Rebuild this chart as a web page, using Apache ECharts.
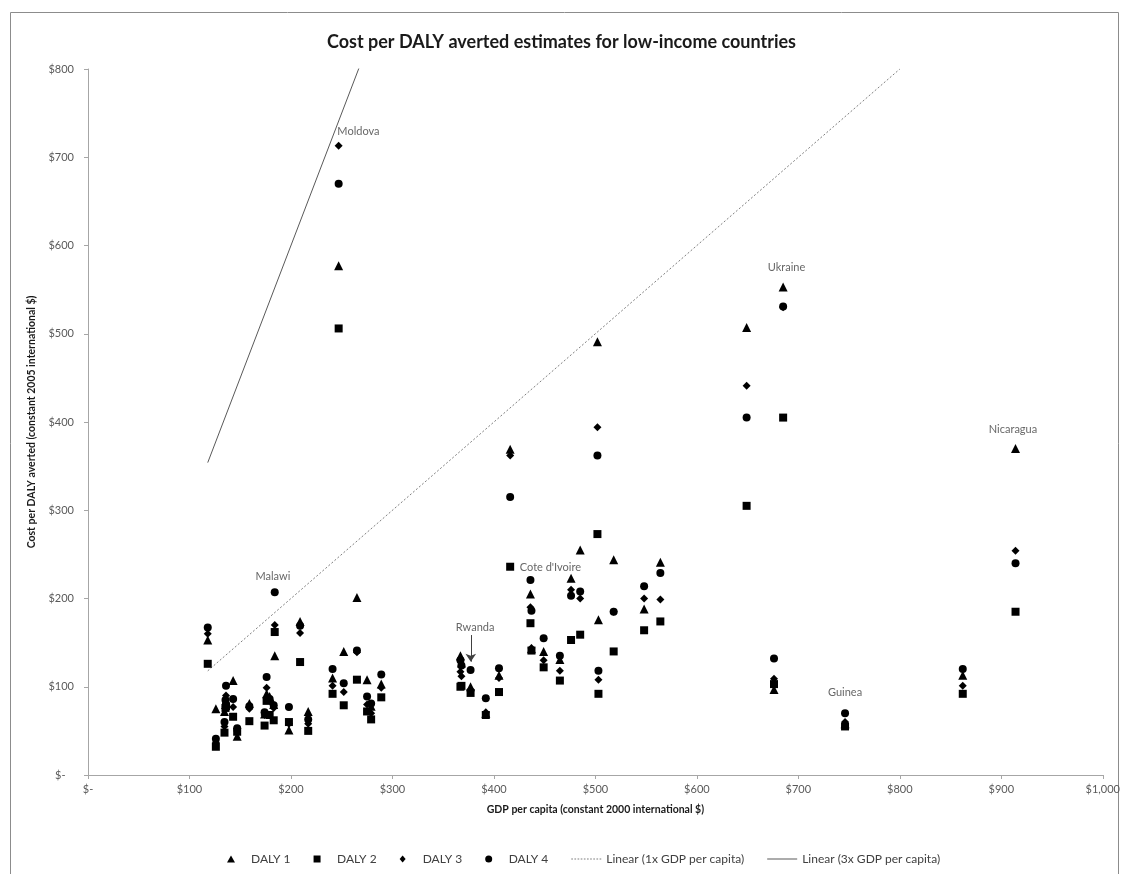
<!DOCTYPE html>
<html>
<head>
<meta charset="utf-8">
<script src="https://cdn.jsdelivr.net/npm/echarts@6/dist/echarts.min.js"></script>
<style>html,body{margin:0;padding:0;background:#fff;}#c{width:1123px;height:874px;}</style>
</head>
<body>
<div id="c"></div>
<script>
// GDP per capita (constant 2000 international $) for each country
const gdp   = [118, 126, 134.5, 135.5, 136, 143, 147, 159, 174, 176, 179, 183, 184, 198, 209, 217, 241, 247, 252, 265, 275, 279, 289, 367, 368, 377, 392, 405, 416, 436, 437, 449, 465, 476, 485, 502, 503, 518, 548, 564, 649, 685, 676, 746, 862, 914];
// Cost per DALY averted (constant 2005 international $)
const daly1 = [153, 75, 72, 80, 84, 107, 44, 81, 69, 92, 89, 80, 135, 51, 174, 72, 110, 577, 140, 201, 108, 78, 103, 135, 127, 100, 70, 113, 369, 205, 143, 140, 131, 223, 255, 491, 176, 244, 188, 241, 507, 553, 97, 58, 113, 370];
const daly2 = [126, 32, 48, 76, 78, 66, 49, 61, 56, 84, 68, 62, 162, 60, 128, 50, 92, 506, 79, 108, 72, 63, 88, 100, 101, 93, 68, 94, 236, 172, 141, 122, 107, 153, 159, 273, 92, 140, 164, 174, 305, 405, 103, 55, 92, 185];
const daly3 = [160, 37, 55, 78, 90, 77, 50, 75, 68, 99, 84, 76, 170, 58, 161, 58, 101, 713, 94, 139, 80, 70, 99, 117, 112, 97, 71, 110, 362, 190, 144, 130, 118, 210, 200, 394, 108, 185, 200, 199, 441, 530, 109, 60, 101, 254];
const daly4 = [167, 41, 60, 85, 101, 86, 53, 78, 71, 111, 86, 79, 207, 77, 169, 63, 120, 670, 104, 141, 89, 81, 114, 130, 124, 119, 87, 121, 315, 221, 186, 155, 135, 203, 208, 362, 118, 185, 214, 229, 405, 531, 132, 70, 120, 240];
// Reference lines (endpoints)
const line1x = [[118, 118], [800, 800]];
const line3x = [[118, 354], [267, 801]];
// Country annotations
const labelNames = ['Moldova', 'Malawi', 'Rwanda', "Cote d'Ivoire", 'Ukraine', 'Guinea', 'Nicaragua'];
const labelX = [266.5, 182.2, 381.5, 425.5, 688.3, 746, 911.5];
const labelY = [729.7, 225.5, 167.7, 235.4, 575.6, 93.3, 391];
const rwandaArrow = [[377.2, 158.6], [377.2, 128.4]];
// Axis ticks
const xTicks = [0, 100, 200, 300, 400, 500, 600, 700, 800, 900, 1000];
const yTicks = [0, 100, 200, 300, 400, 500, 600, 700, 800];

const FONT = 'Lato';
const fmtMoney = v => v === 0 ? '$-' : '$' + v.toLocaleString('en-US');
const pts = arr => gdp.map((g, i) => [g, arr[i]]);

const chart = echarts.init(document.getElementById('c'), null, {renderer: 'canvas'});
const scatterBase = (name, symbol, size, arr) => ({
  name, type: 'scatter', symbol, symbolSize: size, data: pts(arr),
  itemStyle: {color: '#000', opacity: 1}, z: 3
});

const labelData = labelNames.map((n, i) => ({
  value: [labelX[i], labelY[i]], name: n,
  label: n === "Cote d'Ivoire" ? {align: 'left'} : {}
}));

const triIcon = 'path://M4,0L8,7L0,7Z';
const rectIcon = 'path://M0,0h7v7h-7z';
const diaIcon = 'path://M3,0L6,3.5L3,7L0,3.5Z';
const dottedIcon = 'path://' + Array.from({length: 10}, (_, k) => `M${k * 3},0h1.6v1h-1.6z`).join(' ');
const solidIcon = 'path://M0,0h30v1h-30z';

chart.setOption({
  animation: false,
  textStyle: {fontFamily: FONT},
  title: {
    text: 'Cost per DALY averted estimates for low-income countries',
    left: 'center', top: 28,
    textStyle: {fontFamily: FONT, fontSize: 18, fontWeight: 'bold', color: '#1a1a1a'}
  },
  graphic: [{
    type: 'rect', shape: {x: 10.5, y: 12.5, width: 1108, height: 870},
    style: {fill: 'none', stroke: '#8c8c8c', lineWidth: 1}, silent: true
  }],
  grid: {left: 88, right: 18, top: 69, bottom: 99},
  xAxis: {
    type: 'value', min: 0, max: 1000, interval: 100,
    name: 'GDP per capita (constant 2000 international $)',
    nameLocation: 'middle', nameGap: 29,
    nameTextStyle: {fontFamily: FONT, fontSize: 10.5, fontWeight: 'bold', color: '#1a1a1a'},
    axisLine: {lineStyle: {color: '#a6a6a6'}},
    axisTick: {show: true, length: 4, lineStyle: {color: '#a6a6a6'}},
    splitLine: {show: false},
    axisLabel: {margin: 9, fontSize: 11, color: '#595959', formatter: v => fmtMoney(v), showMaxLabel: true, showMinLabel: true}
  },
  yAxis: {
    type: 'value', min: 0, max: 800, interval: 100,
    name: 'Cost per DALY averted (constant 2005 international $)',
    nameLocation: 'middle', nameGap: 49, nameRotate: 90,
    nameTextStyle: {fontFamily: FONT, fontSize: 10.5, fontWeight: 'bold', color: '#1a1a1a'},
    axisLine: {show: true, lineStyle: {color: '#a6a6a6'}},
    axisTick: {show: true, length: 4, lineStyle: {color: '#a6a6a6'}},
    splitLine: {show: false},
    axisLabel: {margin: 14, fontSize: 11, color: '#595959', formatter: v => v === 0 ? '$-   ' : fmtMoney(v)}
  },
  legend: {
    bottom: 4, left: 222, itemGap: 23, itemWidth: 30, itemHeight: 7,
    symbolKeepAspect: true,
    textStyle: {fontFamily: FONT, fontSize: 12, color: '#404040'},
    data: [
      {name: 'DALY 1', icon: triIcon, itemStyle: {color: '#000'}},
      {name: 'DALY 2', icon: rectIcon, itemStyle: {color: '#000'}},
      {name: 'DALY 3', icon: diaIcon, itemStyle: {color: '#000'}},
      {name: 'DALY 4', icon: 'circle', itemStyle: {color: '#000'}},
      {name: 'Linear (1x GDP per capita)', icon: dottedIcon, itemStyle: {color: '#7f7f7f'}, lineStyle: {width: 0}},
      {name: 'Linear (3x GDP per capita)', icon: solidIcon, itemStyle: {color: '#595959'}, lineStyle: {width: 0}}
    ]
  },
  series: [
    scatterBase('DALY 1', 'triangle', 9, daly1),
    scatterBase('DALY 2', 'rect', 8, daly2),
    scatterBase('DALY 3', 'diamond', 8, daly3),
    scatterBase('DALY 4', 'circle', 8, daly4),
    {
      name: 'Linear (1x GDP per capita)', type: 'line', data: line1x, symbol: 'none',
      lineStyle: {color: '#7f7f7f', width: 1, type: [2, 2]}, itemStyle: {color: '#7f7f7f'}, z: 2
    },
    {
      name: 'Linear (3x GDP per capita)', type: 'line', data: line3x, symbol: 'none',
      lineStyle: {color: '#595959', width: 1, type: 'solid'}, itemStyle: {color: '#595959'}, z: 2
    },
    {
      name: 'labels', type: 'scatter', symbolSize: 0, data: labelData, silent: true, z: 4,
      label: {show: true, position: 'inside', formatter: p => p.name, fontFamily: FONT, fontSize: 11, color: '#404040'},
      markLine: {
        silent: true, symbol: ['none', 'arrow'], symbolSize: [8, 8],
        lineStyle: {color: '#404040', width: 1, type: 'solid'},
        label: {show: false},
        data: [[{coord: rwandaArrow[0]}, {coord: rwandaArrow[1]}]]
      }
    }
  ]
});
</script>
</body>
</html>
